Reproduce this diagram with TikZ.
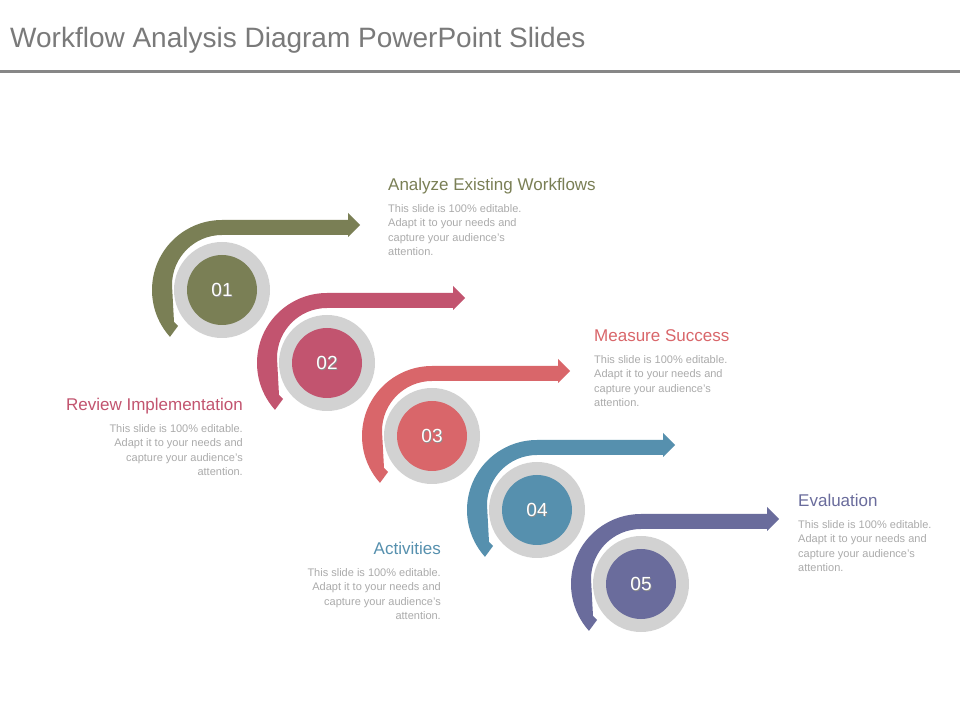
\documentclass[tikz,border=0pt]{standalone}
\usepackage{fontspec}
\setmainfont{Liberation Sans}
\begin{document}
\begin{tikzpicture}[x=1pt,y=1pt]
\definecolor{cA}{HTML}{7A7F55}
\definecolor{cB}{HTML}{C2546F}
\definecolor{cC}{HTML}{D9666A}
\definecolor{cD}{HTML}{5690AE}
\definecolor{cE}{HTML}{6A6C9C}
\definecolor{ring}{HTML}{D2D2D2}
\definecolor{ttl}{HTML}{7A7A7A}
\definecolor{body}{HTML}{ABABAB}
\tikzset{
 ttlstyle/.style={anchor=base west,inner sep=0,font=\fontsize{28}{32}\selectfont,text=ttl},
 headl/.style={anchor=base west,inner sep=0,font=\fontsize{17}{20}\selectfont},
 headr/.style={anchor=base east,inner sep=0,font=\fontsize{17}{20}\selectfont},
 bodyl/.style={anchor=north west,inner sep=0,align=left,text=body,font=\fontsize{11}{14.5}\selectfont},
 bodyr/.style={anchor=north east,inner sep=0,align=right,text=body,font=\fontsize{11}{14.5}\selectfont},
 numtxt/.style={text=white,font=\fontsize{19}{22}\selectfont}
}
\useasboundingbox (0,0) rectangle (960,720);
\fill[white] (0,0) rectangle (960,720);
\node[ttlstyle] (title) at (10,672) {Workflow Analysis Diagram PowerPoint Slides};
\coordinate (l1) at (0,648); \coordinate (l2) at (960,648);
\draw[line width=3pt,color=ttl!90] (l1) -- (l2);
\newcommand\steparrow[4]{%
 \begin{scope}[shift={(#1,#2)}]
  \fill[#3] (222:70) arc (222:90:70) -- (126,70) -- (126,77) -- (138,65) -- (126,53) -- (126,55)
    -- (0,55) arc (90:180:50) -- (-48,-32) -- (-44,-36) -- cycle;
  \fill[ring] (0,0) circle (48);
  \fill[#3] (0,0) circle (35);
  \node[numtxt,text=black!45] at (0.8,-0.8) {#4};
  \node[numtxt] (n#4) at (0,0) {#4};
 \end{scope}}
\steparrow{222}{430}{cA}{01}
\steparrow{327}{357}{cB}{02}
\steparrow{432}{284}{cC}{03}
\steparrow{537}{210}{cD}{04}
\steparrow{641}{136}{cE}{05}
\newcommand\bodytext{This slide is 100\% editable.\\Adapt it to your needs and\\capture your audience's\\attention.}
\node[headl,text=cA] (h1) at (388,529) {Analyze Existing Workflows};
\node[bodyl] (b1) at (388,516) {\bodytext};
\node[headl,text=cC] (h3) at (594,378) {Measure Success};
\node[bodyl] (b3) at (594,365) {\bodytext};
\node[headr,text=cB] (h2) at (243,309) {Review Implementation};
\node[bodyr] (b2) at (243,296) {\bodytext};
\node[headl,text=cE] (h5) at (798,213) {Evaluation};
\node[bodyl] (b5) at (798,200) {\bodytext};
\node[headr,text=cD] (h4) at (441,165) {Activities};
\node[bodyr] (b4) at (441,152) {\bodytext};
\end{tikzpicture}
\end{document}
